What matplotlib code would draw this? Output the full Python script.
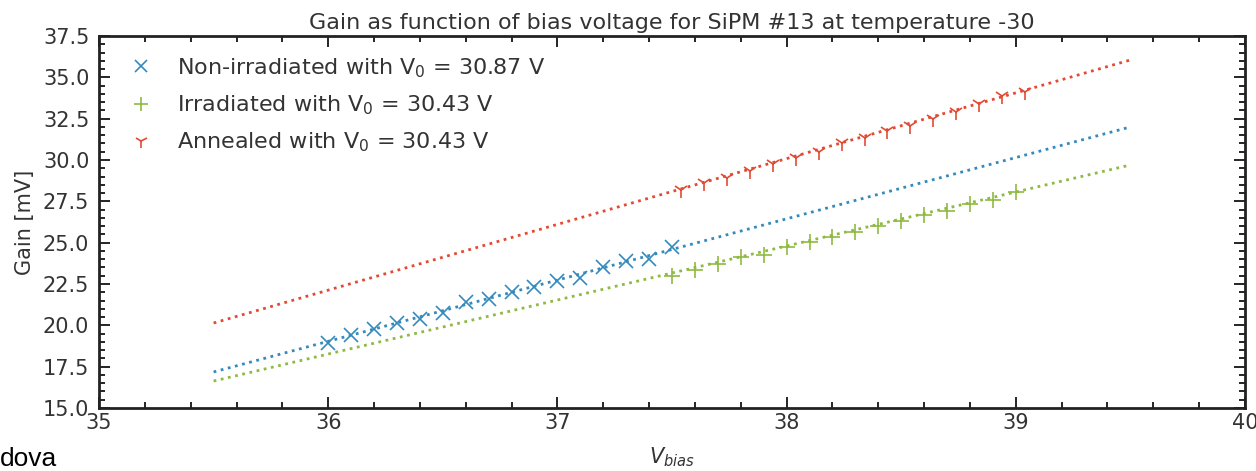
#!/usr/bin/env python3
import matplotlib
matplotlib.use('Agg')
import matplotlib.pyplot as plt
from matplotlib.ticker import MultipleLocator, FormatStrFormatter

v_nonirr = [36.0, 36.1, 36.2, 36.3, 36.4, 36.5, 36.6, 36.7, 36.8, 36.9, 37.0, 37.1, 37.2, 37.3, 37.4, 37.5]
gain_nonirr = [18.93, 19.42, 19.78, 20.14, 20.38, 20.75, 21.41, 21.59, 22.02, 22.32, 22.68, 22.86, 23.53, 23.89, 24.01, 24.75]

v_irr = [37.5, 37.6, 37.7, 37.8, 37.9, 38.0, 38.1, 38.2, 38.3, 38.4, 38.5, 38.6, 38.7, 38.8, 38.9, 39.0]
gain_irr = [22.99, 23.35, 23.71, 24.13, 24.26, 24.74, 25.04, 25.34, 25.65, 26.01, 26.31, 26.68, 26.92, 27.34, 27.58, 28.05]

v_ann = [37.54, 37.64, 37.74, 37.84, 37.94, 38.04, 38.14, 38.24, 38.34, 38.44, 38.54, 38.64, 38.74, 38.84, 38.94, 39.04]
gain_ann = [28.19, 28.62, 28.91, 29.34, 29.76, 30.12, 30.49, 31.03, 31.33, 31.76, 32.06, 32.48, 32.88, 33.39, 33.88, 34.12]

# fit lines (end points)
fit_v = [35.5, 39.5]
fit_nonirr = [17.18, 32.0]
fit_irr = [16.63, 29.70]
fit_ann = [20.14, 36.05]

labels = ['Non-irradiated with V$_0$ = 30.87 V',
          'Irradiated with V$_0$ = 30.43 V',
          'Annealed with V$_0$ = 30.43 V']
colors = ['#348ABD', '#8EBA42', '#E24A33']
txt = '#333333'

matplotlib.rcParams['font.size'] = 15
matplotlib.rcParams['text.color'] = txt
matplotlib.rcParams['axes.labelcolor'] = txt
matplotlib.rcParams['xtick.labelcolor'] = txt
matplotlib.rcParams['ytick.labelcolor'] = txt

fig = plt.figure(figsize=(12.56, 4.71), dpi=100)
ax = fig.add_axes([99/1256, 1 - 408/471, (1245-99)/1256, (408-36)/471])

ax.plot(v_nonirr, gain_nonirr, 'x', color=colors[0], markersize=10, mew=1.2, label=labels[0])
ax.plot(fit_v, fit_nonirr, ':', color=colors[0], lw=2)
ax.plot(v_irr, gain_irr, '+', color=colors[1], markersize=11, mew=1.2, label=labels[1])
ax.plot(fit_v, fit_irr, ':', color=colors[1], lw=2)
ax.plot(v_ann, gain_ann, '1', color=colors[2], markersize=11, mew=1.2, label=labels[2])
ax.plot(fit_v, fit_ann, ':', color=colors[2], lw=2)

ax.set_xlim(35, 40)
ax.set_ylim(15, 37.5)
ax.xaxis.set_major_locator(MultipleLocator(1))
ax.xaxis.set_minor_locator(MultipleLocator(0.2))
ax.yaxis.set_major_locator(MultipleLocator(2.5))
ax.yaxis.set_minor_locator(MultipleLocator(0.5))
ax.yaxis.set_major_formatter(FormatStrFormatter('%.1f'))

ax.tick_params(which='both', direction='in', top=True, right=True, width=1.2, labelsize=15)
ax.tick_params(which='major', length=8)
ax.tick_params(which='minor', length=4)
ax.tick_params(axis='y', pad=7)
for s in ax.spines.values():
    s.set_linewidth(2)
    s.set_color('#222222')

ax.set_title('Gain as function of bias voltage for SiPM #13 at temperature -30', fontsize=16, pad=5)
ax.set_xlabel('$V_{bias}$', fontsize=15, labelpad=9)
ax.set_ylabel('Gain [mV]', fontsize=15, labelpad=6)

leg = ax.legend(loc='upper left', frameon=False, fontsize=16, handletextpad=0.6,
                labelspacing=0.62, borderaxespad=0.5, markerscale=0.9)

fig.text(0.0, 0.0, 'dova', fontsize=19, family='Liberation Sans', color='black',
         ha='left', va='bottom')

fig.savefig('out.png', dpi=100)
